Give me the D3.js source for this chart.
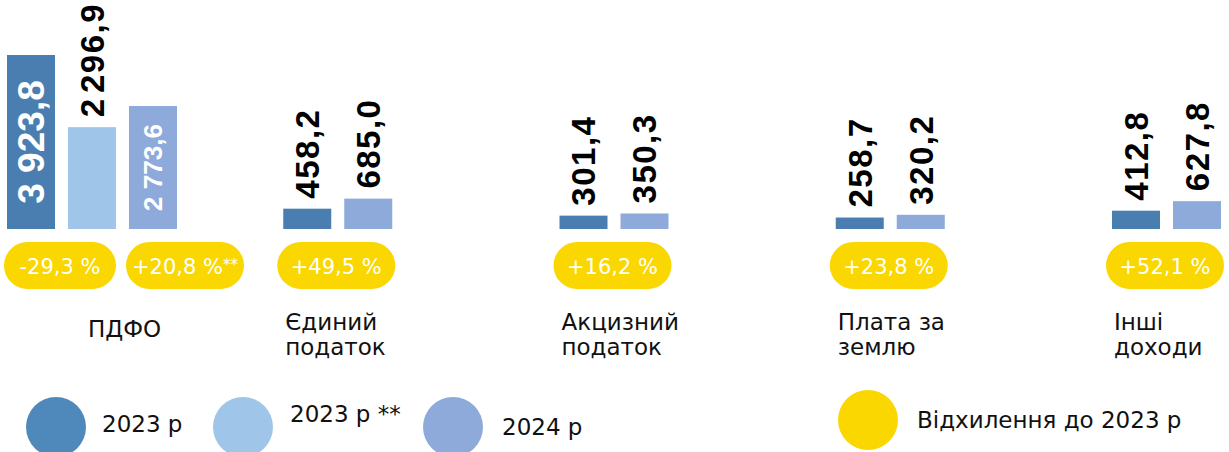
<!DOCTYPE html>
<meta charset="utf-8">
<script src="https://d3js.org/d3.v7.min.js"></script>
<style>
  body { margin: 0; background: #fff; }
</style>
<div id="dataviz"></div>
<script>
// categories and values (млн грн)
const categories = ["ПДФО", "Єдиний податок", "Акцизний податок", "Плата за землю", "Інші доходи"];
const labelLines = [["ПДФО"], ["Єдиний", "податок"], ["Акцизний", "податок"], ["Плата за", "землю"], ["Інші", "доходи"]];
const v2023 = [3923.8, 458.2, 301.4, 258.7, 412.8];
const v2023adj = [2296.9, null, null, null, null];   // 2023 р **
const v2024 = [2773.6, 685.0, 350.3, 320.2, 627.8];
const change = [-29.3, 49.5, 16.2, 23.8, 52.1];      // відхилення до 2023 р
const changeAdj = [20.8, null, null, null, null];    // відхилення до 2023 р **

const seriesNames = ["2023 р", "2023 р **", "2024 р"];
const seriesColor = {"2023 р": "#4a7eb0", "2023 р **": "#9fc5e8", "2024 р": "#8eaadb"};
const legendColor = ["#4f89bc", "#9fc5e8", "#8eaadb", "#fad700"];
const legendText = ["2023 р", "2023 р **", "2024 р", "Відхилення до 2023 р"];

const W = 1229, H = 452;
const yellow = "#fad700";

const ua = d3.formatLocale({decimal: ",", thousands: "\u200A", grouping: [3], currency: ["", ""]});
const fmtBig = d3.formatLocale({decimal: ",", thousands: " ", grouping: [3], currency: ["", ""]}).format(",.1f");
const fmt = ua.format(",.1f");
const fmtPct = d => (d < 0 ? "-" : "+") + ua.format(".1f")(Math.abs(d)) + " %";

const svg = d3.select("#dataviz").append("svg")
    .attr("width", W).attr("height", H);
svg.append("rect").attr("width", W).attr("height", H).attr("fill", "#fff");

// scales
const x0 = d3.scaleBand().domain(categories).range([7, 7 + 276.25 * 5]);
const xi = d3.scaleBand().domain([0, 1, 2]).range([0, 170]).paddingInner(0.213);
const y = d3.scaleLinear().domain([0, 3923.8]).range([229, 55]);

// build bars per group
const bars = [];
categories.forEach((c, i) => {
  const vals = [["2023 р", v2023[i]], ["2023 р **", v2023adj[i]], ["2024 р", v2024[i]]]
    .filter(d => d[1] != null);
  vals.forEach((d, k) => bars.push({cat: c, series: d[0], value: d[1], slot: k}));
});

const g = svg.append("g");
g.selectAll("rect.bar").data(bars).enter().append("rect")
    .attr("class", "bar")
    .attr("x", d => x0(d.cat) + xi(d.slot))
    .attr("y", d => y(d.value))
    .attr("width", xi.bandwidth())
    .attr("height", d => y(0) - y(d.value))
    .attr("fill", d => seriesColor[d.series]);

// value labels, rotated
g.selectAll("text.val").data(bars).enter().append("text")
    .attr("class", "val")
    .each(function (d) {
      const h = y(0) - y(d.value);
      const cx = x0(d.cat) + xi(d.slot) + xi.bandwidth() / 2;
      const t = d3.select(this);
      if (h > 110) {
        // inside the bar, white
        const fs = h * 0.213;
        t.attr("transform", "translate(" + (cx + fs * 0.36) + "," + (y(d.value) + h / 2) + ") rotate(-90)")
          .attr("text-anchor", "middle")
          .style("font", "bold " + fs + "px 'Liberation Sans', Arial, sans-serif")
          .attr("fill", "#fff")
          .text(fmtBig(d.value));
      } else {
        t.attr("transform", "translate(" + (cx + 11.8) + "," + (y(d.value) - 10) + ") rotate(-90)")
          .attr("text-anchor", "start")
          .style("font", "bold 33px 'Liberation Sans', Arial, sans-serif")
          .style("letter-spacing", "1.5px")
          .attr("fill", "#000")
          .text(fmt(d.value));
      }
    });

// deviation pills
const pills = [];
categories.forEach((c, i) => {
  pills.push({cat: c, value: change[i], note: "", k: 0});
  if (changeAdj[i] != null) pills.push({cat: c, value: changeAdj[i], note: "**", k: 1});
});
const ph = 47, py = 242;
const pg = g.selectAll("g.pill").data(pills).enter().append("g")
    .attr("class", "pill")
    .attr("transform", d => "translate(" + (x0(d.cat) + 53 + d.k * 125) + "," + py + ")");
pg.append("rect")
    .attr("x", d => d.k === 0 && changeAdj[categories.indexOf(d.cat)] != null ? -56 : -59)
    .attr("width", d => d.k === 0 && changeAdj[categories.indexOf(d.cat)] != null ? 112 : 118)
    .attr("height", ph)
    .attr("rx", ph / 2).attr("fill", yellow);
const pt = pg.append("text")
    .attr("y", ph / 2 + 8)
    .attr("text-anchor", "middle")
    .attr("fill", "#fff")
    .style("font", "21px 'DejaVu Sans', sans-serif");
pt.append("tspan").text(d => fmtPct(d.value));
pt.filter(d => d.note).append("tspan")
    .attr("dy", -4).style("font-size", "15px").text(d => d.note);

// category labels
const lab = g.selectAll("text.cat").data(categories).enter().append("text")
    .attr("class", "cat")
    .attr("x", (d, i) => x0(d) + (i === 0 ? 81 : 2))
    .attr("y", (d, i) => labelLines[i].length > 1 ? 330 : 337)
    .style("font", "23px 'DejaVu Sans', sans-serif")
    .attr("fill", "#111");
lab.selectAll("tspan").data((d, i) => labelLines[i]).enter().append("tspan")
    .attr("x", function () { return d3.select(this.parentNode).attr("x"); })
    .attr("dy", (d, j) => j === 0 ? 0 : 25)
    .text(d => d);

// legend
const legX = [56, 243, 453, 868], legY = [427, 427, 427, 420];
const legTx = [102, 290, 502, 917], legTy = [432, 422, 435, 428];
const lg = svg.append("g");
legendText.forEach((t, i) => {
  lg.append("circle").attr("cx", legX[i]).attr("cy", legY[i]).attr("r", 30)
    .attr("fill", legendColor[i]);
  lg.append("text").attr("x", legTx[i]).attr("y", legTy[i])
    .style("font", "23px 'DejaVu Sans', sans-serif")
    .attr("fill", "#111")
    .text(t);
});
</script>
